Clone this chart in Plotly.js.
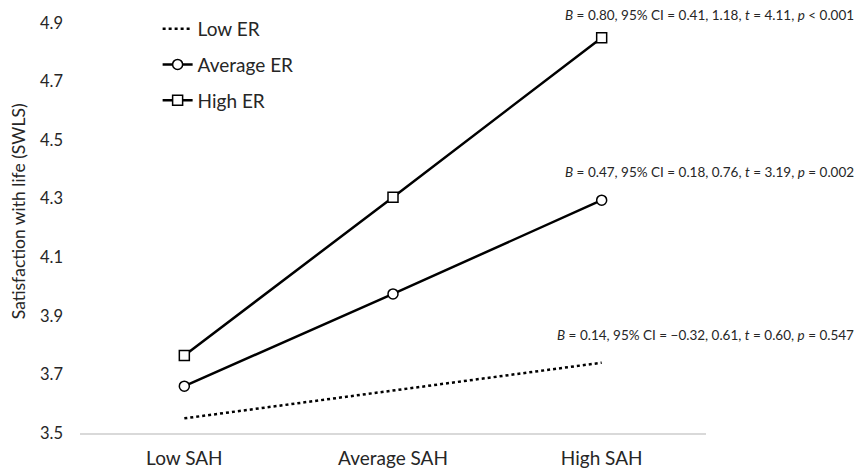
<!DOCTYPE html>
<html>
<head>
<meta charset="utf-8">
<script src="https://cdn.plot.ly/plotly-3.0.1.min.js"></script>
<style>html,body{margin:0;padding:0;background:#fff;}#chart{width:860px;height:472px;}</style>
</head>
<body>
<div id="chart"></div>
<script>
const categories = ["Low SAH", "Average SAH", "High SAH"];
const seriesNames = ["Low ER", "Average ER", "High ER"];
const lowER = [3.55, 3.645, 3.74];
const averageER = [3.66, 3.975, 4.295];
const highER = [3.765, 4.305, 4.85];
const yTicks = [3.5, 3.7, 3.9, 4.1, 4.3, 4.5, 4.7, 4.9];
const statTexts = [
  "<i>B</i> = 0.80, 95% CI = 0.41, 1.18, <i>t</i> = 4.11, <i>p</i> < 0.001",
  "<i>B</i> = 0.47, 95% CI = 0.18, 0.76, <i>t</i> = 3.19, <i>p</i> = 0.002",
  "<i>B</i> = 0.14, 95% CI = \u22120.32, 0.61, <i>t</i> = 0.60, <i>p</i> = 0.547"
];
const statY = [1.02, 0.636, 0.24];

const FONT = "Lato, 'Open Sans', sans-serif";
const INK = "#262626";

const traces = [
  {x: categories, y: lowER, name: seriesNames[0], type: "scatter", mode: "lines",
   line: {color: "#000", width: 2.5, dash: "dot"}, legendgroup: "a"},
  {x: categories, y: averageER, name: seriesNames[1], type: "scatter", mode: "lines+markers",
   line: {color: "#000", width: 2.5},
   marker: {symbol: "circle", size: 10, color: "#fff", line: {color: "#000", width: 1.5}}, legendgroup: "b"},
  {x: categories, y: highER, name: seriesNames[2], type: "scatter", mode: "lines+markers",
   line: {color: "#000", width: 2.5},
   marker: {symbol: "square", size: 10, color: "#fff", line: {color: "#000", width: 1.5}}, legendgroup: "c"}
];

const annotations = statTexts.map((t, i) => ({
  text: t, xref: "paper", yref: "paper", x: 1.2396, y: statY[i],
  xanchor: "right", yanchor: "middle", showarrow: false,
  font: {family: FONT, size: 13.5, color: INK}
}));
annotations.push({
  text: "Satisfaction with life (SWLS)", textangle: -90,
  xref: "paper", yref: "paper", x: -0.099, y: 0.541, xanchor: "center", yanchor: "middle",
  showarrow: false, font: {family: FONT, size: 17.5, color: INK}
});

const layout = {
  width: 860, height: 472,
  margin: {l: 80, r: 154, t: 23, b: 39, autoexpand: false},
  paper_bgcolor: "#fff", plot_bgcolor: "#fff",
  font: {family: FONT, color: INK},
  showlegend: true,
  legend: {x: 0.124, y: 1.032, xanchor: "left", yanchor: "top", bgcolor: "rgba(0,0,0,0)",
           font: {family: FONT, size: 19, color: INK}, tracegroupgap: 8},
  xaxis: {type: "category", range: [-0.5, 2.5], showgrid: false, zeroline: false,
          showline: true, linecolor: "#d9d9d9", linewidth: 2, ticks: "",
          tickfont: {family: FONT, size: 19, color: INK}, ticklabelstandoff: 7, fixedrange: true},
  yaxis: {range: [3.5, 4.9], tickvals: yTicks, ticktext: yTicks.map(v => v.toFixed(1)),
          showgrid: false, zeroline: false, showline: false, ticks: "",
          tickfont: {family: FONT, size: 16.5, color: INK}, ticklabelstandoff: 16, fixedrange: true},
  annotations: annotations
};

Plotly.newPlot("chart", traces, layout, {displayModeBar: false, staticPlot: true});
</script>
</body>
</html>
